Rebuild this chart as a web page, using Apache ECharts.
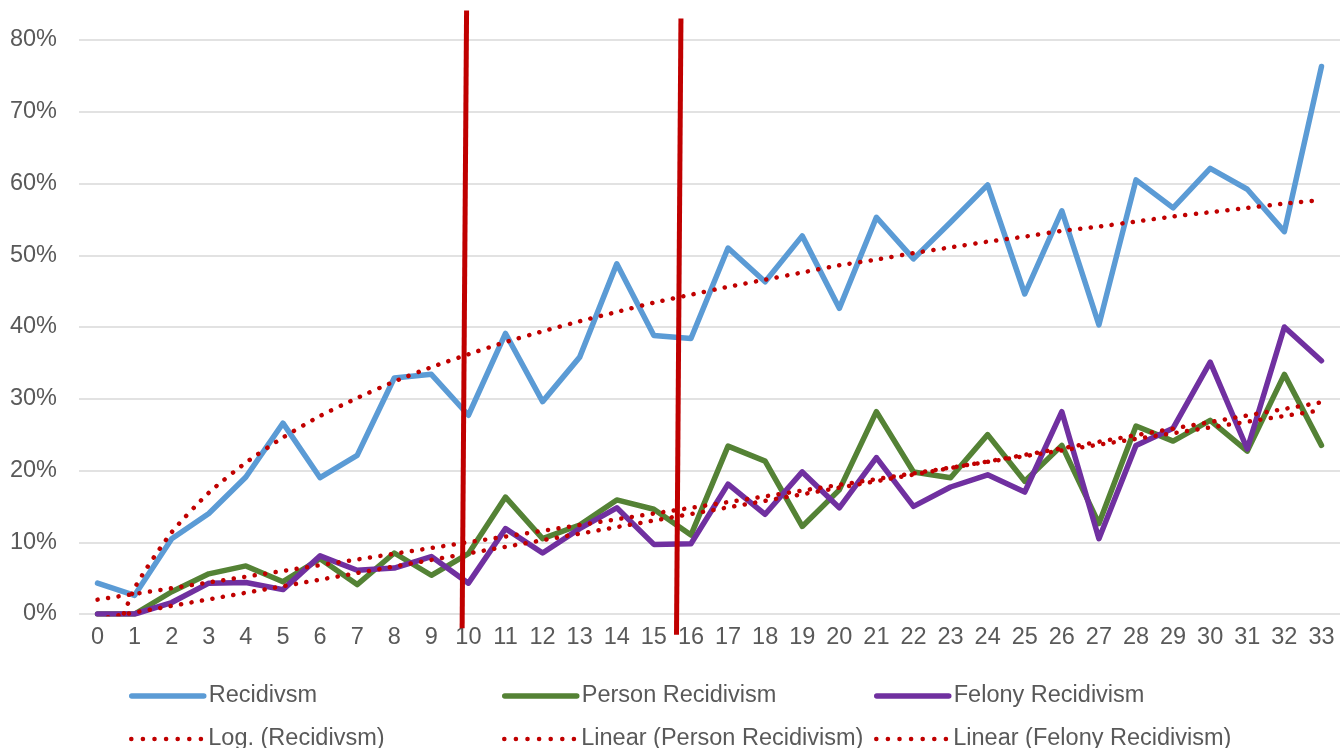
<!DOCTYPE html>
<html>
<head>
<meta charset="utf-8">
<style>
  html, body { margin: 0; padding: 0; background: #fff; }
  #chart { width: 1344px; height: 748px; }
</style>
<script src="https://cdn.jsdelivr.net/npm/echarts@6/dist/echarts.min.js"></script>
</head>
<body>
<div id="chart"></div>
<script>
// categories 0..33
const categories = ['0','1','2','3','4','5','6','7','8','9','10','11','12','13','14','15','16',
  '17','18','19','20','21','22','23','24','25','26','27','28','29','30','31','32','33']

// series values in percent
const recidivism = [4.3, 2.6, 10.5, 14.0, 19.1, 26.6, 19.0, 22.1, 32.9, 33.4, 27.7, 39.1, 29.6, 35.8, 48.8, 38.8, 38.4,
  51.0, 46.3, 52.7, 42.6, 55.3, 49.5, 54.6, 59.8, 44.6, 56.2, 40.3, 60.5, 56.6, 62.1, 59.2, 53.3, 76.3]
const personRecidivism = [0, 0, 3.1, 5.6, 6.7, 4.5, 7.7, 4.1, 8.5, 5.4, 8.4, 16.3, 10.5, 12.4, 15.9, 14.6, 11.0,
  23.4, 21.3, 12.2, 17.3, 28.2, 19.8, 19.0, 25.0, 18.5, 23.5, 12.6, 26.2, 24.1, 27.0, 22.7, 33.4, 23.5]
const felonyRecidivism = [0, 0, 1.6, 4.3, 4.4, 3.4, 8.1, 6.1, 6.4, 8.0, 4.3, 11.9, 8.5, 11.9, 14.8, 9.7, 9.8,
  18.1, 13.9, 19.8, 14.8, 21.8, 15.0, 17.7, 19.4, 17.0, 28.2, 10.5, 23.5, 25.9, 35.1, 23.0, 40.0, 35.3]

// trend lines
const logRecidivism = [-9.6, 3.6, 11.4, 16.9, 21.1, 24.6, 27.6, 30.1, 32.4, 34.4, 36.2, 37.9, 39.4, 40.8, 42.1, 43.4, 44.5,
  45.6, 46.6, 47.6, 48.6, 49.4, 50.3, 51.1, 51.9, 52.6, 53.4, 54.0, 54.7, 55.4, 56.0, 56.6, 57.2, 57.7]
const linearPersonEnds = [2.0, 28.4]
const linearFelonyEnds = [-0.7, 29.5]

// the two hand drawn red markers, [category position, percent]
const markerA = [[9.95, 84.1], [9.83, -2.0]]
const markerB = [[15.73, 83.0], [15.61, -2.9]]

const yTicks = { min: 0, max: 80, interval: 10 }

function endsOnly(ends) {
  const arr = categories.map(() => null)
  arr[0] = ends[0]
  arr[arr.length - 1] = ends[1]
  return arr
}

const textColor = '#595959'
const font = 'Liberation Sans, Arial, sans-serif'
const fontSize = 23.5
const dotted = { color: '#C00000', width: 4.5, type: [0.1, 10.5], cap: 'round' }

// one legend per entry so the columns line up like the original
function legendItem(name, left, top, lineStyle) {
  return {
    data: [name],
    left: left,
    top: top,
    padding: 0,
    itemWidth: 72,
    itemHeight: 24,
    selectedMode: false,
    itemStyle: { opacity: 0 },
    lineStyle: lineStyle,
    textStyle: { color: textColor, fontSize: fontSize, fontFamily: font }
  }
}
const solidIcon = { width: 5.5, cap: 'round' }
const dotIcon = { width: 4.5, type: [0.1, 11.5], cap: 'round' }

const chart = echarts.init(document.getElementById('chart'))

chart.setOption({
  animation: false,
  backgroundColor: '#fff',
  grid: { left: 79, right: 4, top: 40, bottom: 134 },
  legend: [
    legendItem('Recidivsm', 129, 684, solidIcon),
    legendItem('Log. (Recidivsm)', 129, 727, dotIcon),
    legendItem('Person Recidivism', 502, 684, solidIcon),
    legendItem('Linear (Person Recidivism)', 502, 727, dotIcon),
    legendItem('Felony Recidivism', 874, 684, solidIcon),
    legendItem('Linear (Felony Recidivism)', 874, 727, dotIcon)
  ],
  xAxis: [
    {
      type: 'category',
      data: categories,
      boundaryGap: true,
      axisLine: { show: false },
      axisTick: { show: false },
      axisLabel: { color: textColor, fontSize: fontSize, fontFamily: font, interval: 0, margin: 12 }
    },
    {
      type: 'value',
      min: -0.5,
      max: 33.5,
      show: false
    }
  ],
  yAxis: {
    type: 'value',
    min: yTicks.min,
    max: yTicks.max,
    interval: yTicks.interval,
    axisLine: { show: false },
    axisTick: { show: false },
    axisLabel: { color: textColor, fontSize: fontSize, fontFamily: font, formatter: '{value}%', margin: 22 },
    splitLine: { lineStyle: { color: '#D9D9D9', width: 1.5 } }
  },
  series: [
    {
      name: 'Recidivsm', type: 'line', data: recidivism, symbol: 'none',
      lineStyle: { color: '#5B9BD5', width: 5.5, cap: 'round', join: 'round' },
      itemStyle: { color: '#5B9BD5' }, z: 2
    },
    {
      name: 'Person Recidivism', type: 'line', data: personRecidivism, symbol: 'none',
      lineStyle: { color: '#548235', width: 5.5, cap: 'round', join: 'round' },
      itemStyle: { color: '#548235' }, z: 2
    },
    {
      name: 'Felony Recidivism', type: 'line', data: felonyRecidivism, symbol: 'none',
      lineStyle: { color: '#7030A0', width: 5.5, cap: 'round', join: 'round' },
      itemStyle: { color: '#7030A0' }, z: 2
    },
    {
      name: 'Log. (Recidivsm)', type: 'line', data: logRecidivism, symbol: 'none', smooth: 0.2,
      lineStyle: dotted, itemStyle: { color: '#C00000' }, clip: true, z: 3
    },
    {
      name: 'Linear (Person Recidivism)', type: 'line', data: endsOnly(linearPersonEnds), symbol: 'none',
      connectNulls: true, lineStyle: dotted, itemStyle: { color: '#C00000' }, clip: true, z: 3
    },
    {
      name: 'Linear (Felony Recidivism)', type: 'line', data: endsOnly(linearFelonyEnds), symbol: 'none',
      connectNulls: true, lineStyle: dotted, itemStyle: { color: '#C00000' }, clip: true, z: 3
    },
    {
      type: 'line', xAxisIndex: 1, data: markerA, symbol: 'none', clip: false, silent: true,
      lineStyle: { color: '#C00000', width: 5 }, z: 5
    },
    {
      type: 'line', xAxisIndex: 1, data: markerB, symbol: 'none', clip: false, silent: true,
      lineStyle: { color: '#C00000', width: 5 }, z: 5
    }
  ]
})
</script>
</body>
</html>
